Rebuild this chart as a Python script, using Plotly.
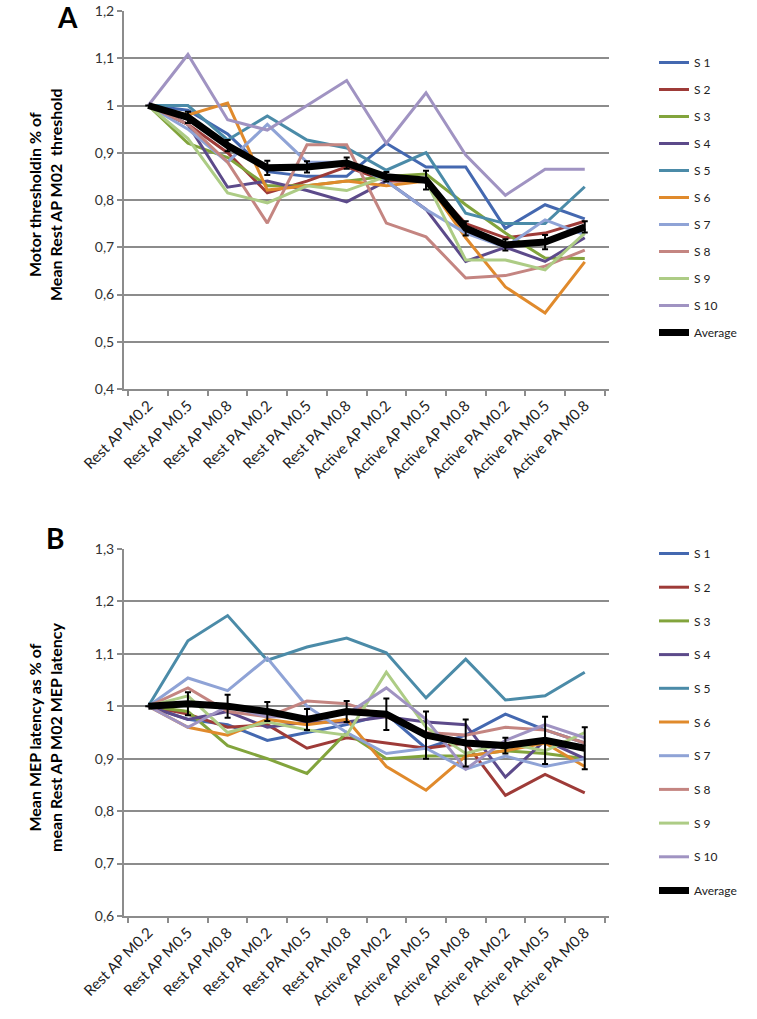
import plotly.graph_objects as go

categories = ["Rest AP M0.2", "Rest AP M0.5", "Rest AP M0.8", "Rest PA M0.2", "Rest PA M0.5", "Rest PA M0.8",
              "Active AP M0.2", "Active AP M0.5", "Active AP M0.8", "Active PA M0.2", "Active PA M0.5", "Active PA M0.8"]
subjects = ["S 1", "S 2", "S 3", "S 4", "S 5", "S 6", "S 7", "S 8", "S 9", "S 10"]

# Panel A: motor threshold
thr_s1 = [1.0, 0.99, 0.94, 0.86, 0.85, 0.85, 0.92, 0.87, 0.87, 0.74, 0.79, 0.76]
thr_s2 = [1.0, 0.96, 0.90, 0.815, 0.84, 0.87, 0.84, 0.84, 0.75, 0.72, 0.73, 0.755]
thr_s3 = [1.0, 0.92, 0.89, 0.83, 0.83, 0.84, 0.85, 0.855, 0.79, 0.73, 0.677, 0.676]
thr_s4 = [1.0, 0.96, 0.827, 0.84, 0.82, 0.796, 0.84, 0.78, 0.67, 0.70, 0.67, 0.72]
thr_s5 = [1.0, 1.0, 0.927, 0.978, 0.927, 0.91, 0.863, 0.90, 0.772, 0.75, 0.75, 0.828]
thr_s6 = [1.0, 0.98, 1.005, 0.821, 0.83, 0.84, 0.83, 0.84, 0.72, 0.616, 0.561, 0.669]
thr_s7 = [1.0, 0.95, 0.88, 0.96, 0.88, 0.88, 0.84, 0.78, 0.73, 0.70, 0.758, 0.726]
thr_s8 = [1.0, 0.96, 0.88, 0.751, 0.917, 0.917, 0.751, 0.722, 0.635, 0.64, 0.66, 0.694]
thr_s9 = [1.0, 0.93, 0.815, 0.794, 0.83, 0.82, 0.85, 0.84, 0.673, 0.673, 0.652, 0.73]
thr_s10 = [1.0, 1.108, 0.97, 0.948, 1.0, 1.053, 0.92, 1.027, 0.895, 0.81, 0.865, 0.865]
thr_avg = [1.0, 0.975, 0.915, 0.868, 0.87, 0.878, 0.849, 0.842, 0.74, 0.705, 0.711, 0.743]
thr_err = [0.0, 0.012, 0.012, 0.015, 0.012, 0.012, 0.01, 0.02, 0.015, 0.012, 0.015, 0.012]

# Panel B: MEP latency
lat_s1 = [1.0, 0.975, 0.965, 0.935, 0.95, 0.965, 0.985, 0.92, 0.945, 0.985, 0.955, 0.93]
lat_s2 = [1.0, 0.985, 0.96, 0.965, 0.92, 0.94, 0.93, 0.92, 0.93, 0.83, 0.87, 0.835]
lat_s3 = [1.0, 0.99, 0.925, 0.90, 0.872, 0.95, 0.90, 0.905, 0.905, 0.915, 0.91, 0.90]
lat_s4 = [1.0, 0.975, 0.99, 0.96, 0.97, 0.97, 0.98, 0.97, 0.965, 0.865, 0.935, 0.90]
lat_s5 = [1.0, 1.125, 1.173, 1.088, 1.113, 1.13, 1.102, 1.016, 1.09, 1.012, 1.02, 1.065]
lat_s6 = [1.0, 0.96, 0.945, 0.975, 0.965, 0.975, 0.885, 0.84, 0.905, 0.915, 0.93, 0.885]
lat_s7 = [1.0, 1.054, 1.03, 1.092, 1.0, 0.95, 0.91, 0.92, 0.88, 0.905, 0.885, 0.90]
lat_s8 = [1.0, 1.035, 0.99, 0.98, 1.01, 1.005, 0.98, 0.95, 0.945, 0.96, 0.955, 0.93]
lat_s9 = [1.0, 1.02, 0.95, 0.97, 0.955, 0.945, 1.065, 0.96, 0.91, 0.93, 0.915, 0.95]
lat_s10 = [1.0, 0.96, 1.0, 0.98, 0.98, 0.985, 1.035, 0.975, 0.88, 0.935, 0.965, 0.94]
lat_avg = [1.0, 1.005, 1.0, 0.99, 0.975, 0.99, 0.985, 0.945, 0.93, 0.925, 0.935, 0.92]
lat_err = [0.0, 0.022, 0.022, 0.018, 0.02, 0.02, 0.03, 0.045, 0.045, 0.015, 0.045, 0.04]

colors = ["#4468b0", "#9e3b38", "#82a43c", "#5c4a8a", "#4b8ba8", "#e08a2c", "#8fa3d6", "#c48581", "#adcc85", "#a093c2"]

thr_series = [thr_s1, thr_s2, thr_s3, thr_s4, thr_s5, thr_s6, thr_s7, thr_s8, thr_s9, thr_s10]
lat_series = [lat_s1, lat_s2, lat_s3, lat_s4, lat_s5, lat_s6, lat_s7, lat_s8, lat_s9, lat_s10]

fig = go.Figure()
for name, vals, c in zip(subjects, thr_series, colors):
    fig.add_trace(go.Scatter(x=categories, y=vals, mode="lines", name=name, line=dict(color=c, width=3),
                             xaxis="x", yaxis="y", legend="legend", legendgroup="a" + name))
fig.add_trace(go.Scatter(x=categories, y=thr_avg, mode="lines", name="Average", line=dict(color="black", width=7),
                         error_y=dict(type="data", array=thr_err, color="black", thickness=2, width=3),
                         xaxis="x", yaxis="y", legend="legend", legendgroup="aavg"))
for name, vals, c in zip(subjects, lat_series, colors):
    fig.add_trace(go.Scatter(x=categories, y=vals, mode="lines", name=name, line=dict(color=c, width=3),
                             xaxis="x2", yaxis="y2", legend="legend2", legendgroup="b" + name))
fig.add_trace(go.Scatter(x=categories, y=lat_avg, mode="lines", name="Average", line=dict(color="black", width=7),
                         error_y=dict(type="data", array=lat_err, color="black", thickness=2, width=3),
                         xaxis="x2", yaxis="y2", legend="legend2", legendgroup="bavg"))

W, H = 757, 1019


def px(x):
    return x / W


def py(y):
    return 1 - y / H


FONT = "Lato, Open Sans, sans-serif"
xdom = [px(124), px(609)]
grid = "#8c8c8c"
tickfont = dict(family=FONT, size=15, color="#222")
common_x = dict(type="category", tickson="boundaries", ticks="outside", ticklen=5, tickcolor=grid, tickwidth=2,
                showline=True, linecolor=grid, linewidth=2, tickangle=-45, tickfont=tickfont,
                showgrid=False, zeroline=False, domain=xdom, automargin=False, ticklabeloverflow="allow")
common_y = dict(ticks="outside", ticklen=5, tickcolor=grid, tickwidth=2, showline=True, linecolor=grid, linewidth=2,
                showgrid=True, gridcolor=grid, gridwidth=2, dtick=0.1, zeroline=False, automargin=False,
                ticklabeloverflow="allow", tickfont=dict(family=FONT, size=14, color="#333"))

legfont = dict(family=FONT, size=12, color="#222")
fig.update_layout(
    width=W, height=H, margin=dict(l=0, r=0, t=0, b=0, autoexpand=False),
    paper_bgcolor="white", plot_bgcolor="white", separators=", ",
    xaxis=dict(common_x, anchor="y"),
    yaxis=dict(common_y, range=[0.4, 1.2], domain=[py(389), py(11)], anchor="x"),
    xaxis2=dict(common_x, anchor="y2"),
    yaxis2=dict(common_y, range=[0.6, 1.3], domain=[py(916), py(549)], anchor="x2"),
    legend=dict(x=px(654), y=py(48), xanchor="left", yanchor="top", font=legfont, tracegroupgap=8,
                bgcolor="rgba(0,0,0,0)", itemwidth=30),
    legend2=dict(x=px(654), y=py(539), xanchor="left", yanchor="top", font=legfont, tracegroupgap=14.7,
                 bgcolor="rgba(0,0,0,0)", itemwidth=30),
    showlegend=True,
    annotations=[
        dict(text="<b>A</b>", x=px(67), y=py(17), xref="paper", yref="paper", showarrow=False,
             xanchor="center", yanchor="middle", font=dict(family=FONT, size=28, color="black")),
        dict(text="<b>B</b>", x=px(55), y=py(538), xref="paper", yref="paper", showarrow=False,
             xanchor="center", yanchor="middle", font=dict(family=FONT, size=28, color="black")),
        dict(text="<b>Motor thresholdin % of<br>Mean Rest AP M02  threshold</b>", x=px(45), y=py(195),
             xref="paper", yref="paper", showarrow=False, textangle=-90, xanchor="center", yanchor="middle",
             font=dict(family=FONT, size=16, color="black")),
        dict(text="<b>Mean MEP latency as % of<br>mean Rest AP M02 MEP latency</b>", x=px(45), y=py(738),
             xref="paper", yref="paper", showarrow=False, textangle=-90, xanchor="center", yanchor="middle",
             font=dict(family=FONT, size=16, color="black")),
    ],
)
# remove the browser's default 8px body margin so the figure sits at the window's top-left corner
fig.write_html("out.html", config={"displayModeBar": False},
               post_script="document.body.style.margin='0px';")
